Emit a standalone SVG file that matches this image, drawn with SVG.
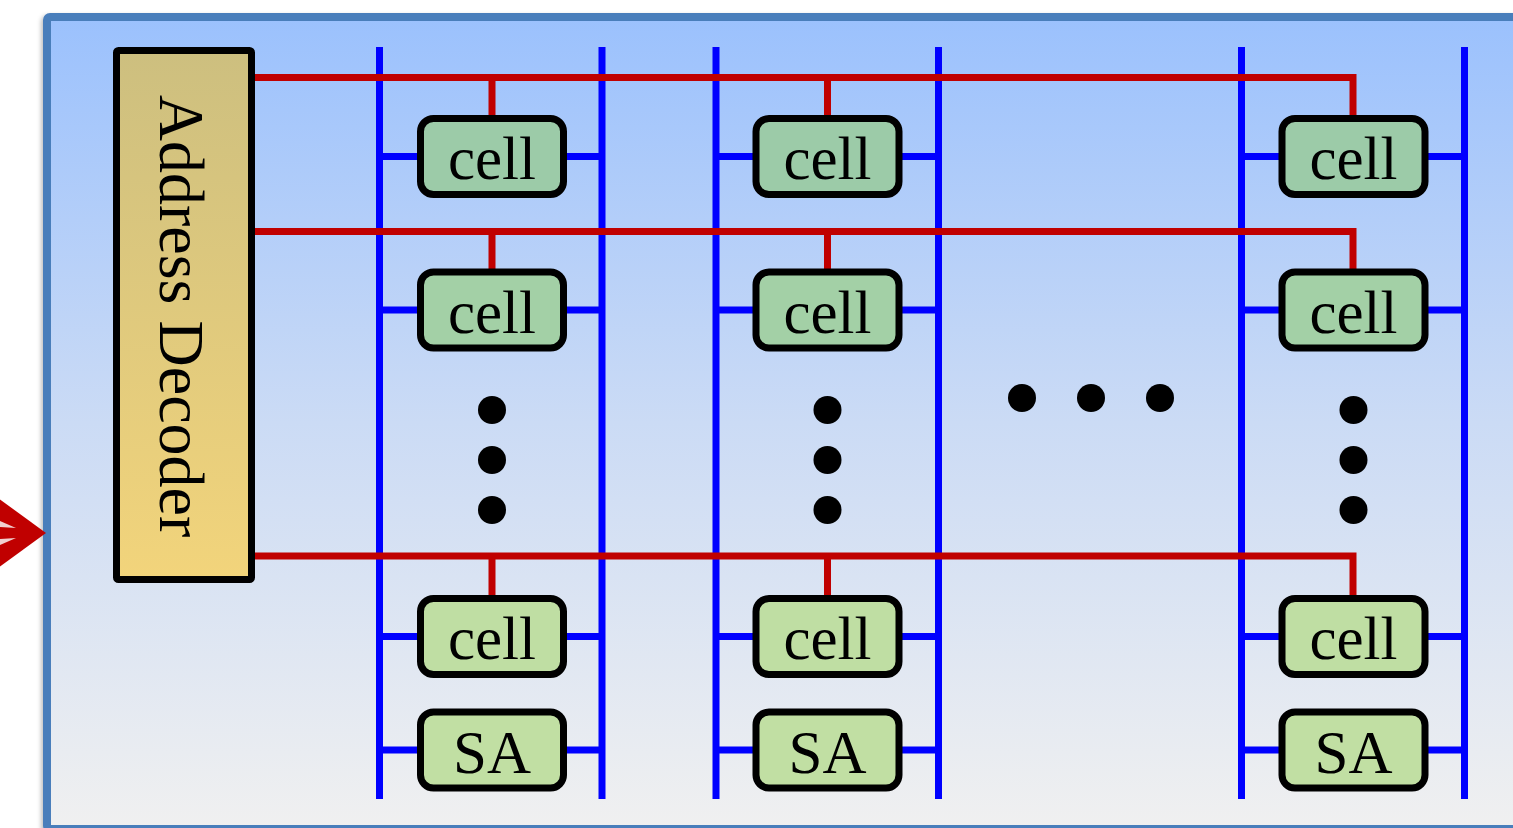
<svg xmlns="http://www.w3.org/2000/svg" width="1513" height="828" viewBox="0 0 1513 828">
<defs>
<linearGradient id="bg" x1="0" y1="0" x2="0" y2="1">
<stop offset="0" stop-color="#9bc1fd"/>
<stop offset="0.5" stop-color="#cbdbf5"/>
<stop offset="1" stop-color="#f0f0f0"/>
</linearGradient>
<linearGradient id="dec" x1="0" y1="0" x2="0" y2="1">
<stop offset="0" stop-color="#cdbf7f"/>
<stop offset="1" stop-color="#f2d47b"/>
</linearGradient>
<filter id="sh" x="-5%" y="-5%" width="110%" height="110%">
<feDropShadow dx="-2" dy="2" stdDeviation="2" flood-color="#000" flood-opacity="0.25"/>
</filter>
</defs>
<style>
.bl{stroke:#0000ff;stroke-width:7;fill:none}
.wl{stroke:#c00000;stroke-width:7;fill:none}
.box{stroke:#000;stroke-width:7}
.r1{fill:#9ccba8}.r2{fill:#a3d0a6}.r3{fill:#bfdea3}.r4{fill:#c1dfa3}
.t{font-family:"Liberation Serif","Times New Roman",serif;font-size:61px;fill:#000;text-anchor:middle}
.dot{fill:#000}
</style>
<rect width="1513" height="828" fill="#fff"/>
<g id="frame">
<rect x="47" y="17" width="1490" height="812" rx="3" fill="url(#bg)" stroke="#4a7ebb" stroke-width="8" filter="url(#sh)"/>
</g>
<g id="input-arrow">
<polygon points="-2,498 46,533 -2,568" fill="#c00000"/>
<polygon points="0,521 16,528 0,527" fill="#f0d0d0"/>
<polygon points="0,539 16,538 0,545" fill="#f0d0d0"/>
</g>
<g id="connectors">
<g id="bitlines">
<path class="bl" d="M379.5,47V799M602,47V799M716,47V799M938.5,47V799M1241.5,47V799M1464.5,47V799"/>
<path class="bl" d="M379.5,156.5H420M563,156.5H602M379.5,310H420M563,310H602M379.5,636.5H420M563,636.5H602M379.5,750H420M563,750H602"/>
<path class="bl" d="M716,156.5H756M899,156.5H938.5M716,310H756M899,310H938.5M716,636.5H756M899,636.5H938.5M716,750H756M899,750H938.5"/>
<path class="bl" d="M1241.5,156.5H1282M1425,156.5H1464.5M1241.5,310H1282M1425,310H1464.5M1241.5,636.5H1282M1425,636.5H1464.5M1241.5,750H1282M1425,750H1464.5"/>
</g>
<g id="wordlines">
<path class="wl" d="M254,77.5H1353V118M492,77.5V118M827.5,77.5V118"/>
<path class="wl" d="M254,231.5H1353V271M492,231.5V271M827.5,231.5V271"/>
<path class="wl" d="M254,556H1353V598M492,556V598M827.5,556V598"/>
</g>
</g>
<g id="decoder">
<rect x="116.5" y="50.5" width="135" height="529" rx="2" fill="url(#dec)" stroke="#000" stroke-width="7"/>
<text class="t" style="font-size:64px" transform="translate(160,316) rotate(90)">Address Decoder</text>
</g>
<g id="col1">
<g id="c1r1"><rect class="box r1" x="420.5" y="118.5" width="143" height="76" rx="13"/><text class="t" x="492" y="179">cell</text></g>
<g id="c1r2"><rect class="box r2" x="420.5" y="272" width="143" height="76" rx="13"/><text class="t" x="492" y="333">cell</text></g>
<g id="c1r3"><rect class="box r3" x="420.5" y="598.5" width="143" height="76" rx="13"/><text class="t" x="492" y="659">cell</text></g>
<g id="c1sa"><rect class="box r4" x="420.5" y="712" width="143" height="76" rx="13"/><text class="t" x="492" y="773">SA</text></g>
<g id="c1dots"><circle class="dot" cx="492" cy="410" r="14"/><circle class="dot" cx="492" cy="460" r="14"/><circle class="dot" cx="492" cy="510" r="14"/></g>
</g>
<g id="col2">
<g id="c2r1"><rect class="box r1" x="756" y="118.5" width="143" height="76" rx="13"/><text class="t" x="827.5" y="179">cell</text></g>
<g id="c2r2"><rect class="box r2" x="756" y="272" width="143" height="76" rx="13"/><text class="t" x="827.5" y="333">cell</text></g>
<g id="c2r3"><rect class="box r3" x="756" y="598.5" width="143" height="76" rx="13"/><text class="t" x="827.5" y="659">cell</text></g>
<g id="c2sa"><rect class="box r4" x="756" y="712" width="143" height="76" rx="13"/><text class="t" x="827.5" y="773">SA</text></g>
<g id="c2dots"><circle class="dot" cx="827.5" cy="410" r="14"/><circle class="dot" cx="827.5" cy="460" r="14"/><circle class="dot" cx="827.5" cy="510" r="14"/></g>
</g>
<g id="hdots"><circle class="dot" cx="1022" cy="398" r="14"/><circle class="dot" cx="1091" cy="398" r="14"/><circle class="dot" cx="1160" cy="398" r="14"/></g>
<g id="col3">
<g id="c3r1"><rect class="box r1" x="1282" y="118.5" width="143" height="76" rx="13"/><text class="t" x="1353.5" y="179">cell</text></g>
<g id="c3r2"><rect class="box r2" x="1282" y="272" width="143" height="76" rx="13"/><text class="t" x="1353.5" y="333">cell</text></g>
<g id="c3r3"><rect class="box r3" x="1282" y="598.5" width="143" height="76" rx="13"/><text class="t" x="1353.5" y="659">cell</text></g>
<g id="c3sa"><rect class="box r4" x="1282" y="712" width="143" height="76" rx="13"/><text class="t" x="1353.5" y="773">SA</text></g>
<g id="c3dots"><circle class="dot" cx="1353.5" cy="410" r="14"/><circle class="dot" cx="1353.5" cy="460" r="14"/><circle class="dot" cx="1353.5" cy="510" r="14"/></g>
</g>
</svg>
